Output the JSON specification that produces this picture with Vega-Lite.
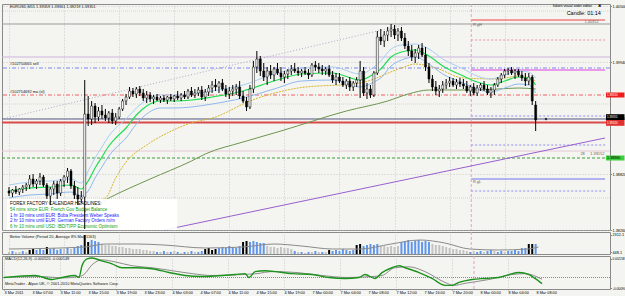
{
"$schema":"https://vega.github.io/schema/vega-lite/v6.json",
"background":"#f4f5f0",
"padding":{"left":0,"top":3,"right":0,"bottom":0},
"spacing":2,
"bounds":"flush",
"config":{"view":{"stroke":"#8a8a8a","strokeWidth":1,"fill":"#f4f5f0"},"axis":{"labelFont":"Liberation Sans","labelFontSize":3.8,"labelColor":"#000000","gridColor":"#bdbdbd","gridDash":[1,2],"gridWidth":0.8,"tickColor":"#888888","tickSize":1.5,"domain":false,"labelFlush":false,"labelOverlap":false,"labelPadding":0.5},"text":{"font":"Liberation Sans"}},
"datasets":{
"bars":[
{"t":0,"o":1.3865,"h":1.3869,"l":1.3860,"c":1.3863},{"t":0.5,"o":1.3863,"h":1.3867,"l":1.3859,"c":1.3866},{"t":1,"o":1.3866,"h":1.3870,"l":1.3862,"c":1.3864},{"t":1.5,"o":1.3864,"h":1.3868,"l":1.3861,"c":1.3867},{"t":2,"o":1.3867,"h":1.3871,"l":1.3863,"c":1.3869},{"t":2.5,"o":1.3869,"h":1.3873,"l":1.3865,"c":1.3871},{"t":3,"o":1.3871,"h":1.3881,"l":1.3867,"c":1.3877},{"t":3.5,"o":1.3877,"h":1.3882,"l":1.3869,"c":1.3872},{"t":4,"o":1.3872,"h":1.3877,"l":1.3867,"c":1.3875},{"t":4.5,"o":1.3875,"h":1.3883,"l":1.3871,"c":1.3879},
{"t":5,"o":1.3879,"h":1.3881,"l":1.3869,"c":1.3871},{"t":5.5,"o":1.3871,"h":1.3873,"l":1.3857,"c":1.3860},{"t":6,"o":1.3860,"h":1.3869,"l":1.3851,"c":1.3867},{"t":6.5,"o":1.3867,"h":1.3875,"l":1.3861,"c":1.3872},{"t":7,"o":1.3872,"h":1.3875,"l":1.3857,"c":1.3863},{"t":7.5,"o":1.3863,"h":1.3877,"l":1.3860,"c":1.3875},{"t":8,"o":1.3875,"h":1.3881,"l":1.3869,"c":1.3879},{"t":8.5,"o":1.3879,"h":1.3888,"l":1.3873,"c":1.3885},{"t":9,"o":1.3885,"h":1.3887,"l":1.3867,"c":1.3870},{"t":9.5,"o":1.3870,"h":1.3875,"l":1.3857,"c":1.3861},
{"t":10,"o":1.3861,"h":1.3869,"l":1.3851,"c":1.3857},{"t":10.5,"o":1.3857,"h":1.3865,"l":1.3853,"c":1.3859},{"t":11,"o":1.3859,"h":1.3976,"l":1.3827,"c":1.3942},{"t":11.5,"o":1.3942,"h":1.3960,"l":1.3930,"c":1.3937},{"t":12,"o":1.3937,"h":1.3955,"l":1.3931,"c":1.3950},{"t":12.5,"o":1.3950,"h":1.3953,"l":1.3933,"c":1.3939},{"t":13,"o":1.3939,"h":1.3949,"l":1.3935,"c":1.3945},{"t":13.5,"o":1.3945,"h":1.3951,"l":1.3937,"c":1.3941},{"t":14,"o":1.3941,"h":1.3947,"l":1.3935,"c":1.3938},{"t":14.5,"o":1.3938,"h":1.3945,"l":1.3933,"c":1.3943},
{"t":15,"o":1.3943,"h":1.3947,"l":1.3932,"c":1.3935},{"t":15.5,"o":1.3935,"h":1.3943,"l":1.3931,"c":1.3939},{"t":16,"o":1.3939,"h":1.3949,"l":1.3937,"c":1.3947},{"t":16.5,"o":1.3947,"h":1.3957,"l":1.3945,"c":1.3955},{"t":17,"o":1.3955,"h":1.3962,"l":1.3951,"c":1.3959},{"t":17.5,"o":1.3959,"h":1.3969,"l":1.3957,"c":1.3965},{"t":18,"o":1.3965,"h":1.3968,"l":1.3959,"c":1.3962},{"t":18.5,"o":1.3962,"h":1.3969,"l":1.3958,"c":1.3967},{"t":19,"o":1.3967,"h":1.3970,"l":1.3960,"c":1.3963},{"t":19.5,"o":1.3963,"h":1.3967,"l":1.3955,"c":1.3958},
{"t":20,"o":1.3958,"h":1.3965,"l":1.3953,"c":1.3961},{"t":20.5,"o":1.3961,"h":1.3964,"l":1.3954,"c":1.3957},{"t":21,"o":1.3957,"h":1.3961,"l":1.3952,"c":1.3959},{"t":21.5,"o":1.3959,"h":1.3962,"l":1.3955,"c":1.3956},{"t":22,"o":1.3956,"h":1.3960,"l":1.3953,"c":1.3958},{"t":22.5,"o":1.3958,"h":1.3961,"l":1.3954,"c":1.3956},{"t":23,"o":1.3956,"h":1.3960,"l":1.3952,"c":1.3959},{"t":23.5,"o":1.3959,"h":1.3962,"l":1.3955,"c":1.3957},{"t":24,"o":1.3957,"h":1.3961,"l":1.3954,"c":1.3960},{"t":24.5,"o":1.3960,"h":1.3965,"l":1.3956,"c":1.3958},
{"t":25,"o":1.3958,"h":1.3963,"l":1.3955,"c":1.3961},{"t":25.5,"o":1.3961,"h":1.3965,"l":1.3957,"c":1.3959},{"t":26,"o":1.3959,"h":1.3967,"l":1.3957,"c":1.3965},{"t":26.5,"o":1.3965,"h":1.3969,"l":1.3959,"c":1.3961},{"t":27,"o":1.3961,"h":1.3967,"l":1.3958,"c":1.3963},{"t":27.5,"o":1.3963,"h":1.3969,"l":1.3960,"c":1.3966},{"t":28,"o":1.3966,"h":1.3970,"l":1.3956,"c":1.3959},{"t":28.5,"o":1.3959,"h":1.3967,"l":1.3955,"c":1.3964},{"t":29,"o":1.3964,"h":1.3971,"l":1.3960,"c":1.3968},{"t":29.5,"o":1.3968,"h":1.3975,"l":1.3963,"c":1.3971},
{"t":30,"o":1.3971,"h":1.3977,"l":1.3965,"c":1.3969},{"t":30.5,"o":1.3969,"h":1.3975,"l":1.3963,"c":1.3973},{"t":31,"o":1.3973,"h":1.3977,"l":1.3965,"c":1.3967},{"t":31.5,"o":1.3967,"h":1.3971,"l":1.3959,"c":1.3962},{"t":32,"o":1.3962,"h":1.3969,"l":1.3957,"c":1.3965},{"t":32.5,"o":1.3965,"h":1.3971,"l":1.3960,"c":1.3967},{"t":33,"o":1.3967,"h":1.3972,"l":1.3961,"c":1.3969},{"t":33.5,"o":1.3969,"h":1.3975,"l":1.3957,"c":1.3960},{"t":34,"o":1.3960,"h":1.3965,"l":1.3953,"c":1.3955},{"t":34.5,"o":1.3955,"h":1.3959,"l":1.3945,"c":1.3949},
{"t":35,"o":1.3949,"h":1.3971,"l":1.3947,"c":1.3967},{"t":35.5,"o":1.3967,"h":1.3995,"l":1.3963,"c":1.3989},{"t":36,"o":1.3989,"h":1.4005,"l":1.3983,"c":1.3997},{"t":36.5,"o":1.3997,"h":1.4000,"l":1.3980,"c":1.3985},{"t":37,"o":1.3985,"h":1.3993,"l":1.3975,"c":1.3979},{"t":37.5,"o":1.3979,"h":1.3989,"l":1.3971,"c":1.3985},{"t":38,"o":1.3985,"h":1.3991,"l":1.3977,"c":1.3981},{"t":38.5,"o":1.3981,"h":1.3989,"l":1.3975,"c":1.3987},{"t":39,"o":1.3987,"h":1.3993,"l":1.3981,"c":1.3983},{"t":39.5,"o":1.3983,"h":1.3989,"l":1.3975,"c":1.3979},
{"t":40,"o":1.3979,"h":1.3985,"l":1.3973,"c":1.3982},{"t":40.5,"o":1.3982,"h":1.3987,"l":1.3977,"c":1.3985},{"t":41,"o":1.3985,"h":1.3991,"l":1.3981,"c":1.3987},{"t":41.5,"o":1.3987,"h":1.3993,"l":1.3983,"c":1.3985},{"t":42,"o":1.3985,"h":1.3989,"l":1.3980,"c":1.3983},{"t":42.5,"o":1.3983,"h":1.3987,"l":1.3979,"c":1.3985},{"t":43,"o":1.3985,"h":1.3989,"l":1.3981,"c":1.3983},{"t":43.5,"o":1.3983,"h":1.3987,"l":1.3977,"c":1.3981},{"t":44,"o":1.3981,"h":1.3993,"l":1.3979,"c":1.3991},{"t":44.5,"o":1.3991,"h":1.3995,"l":1.3985,"c":1.3989},
{"t":45,"o":1.3989,"h":1.3993,"l":1.3983,"c":1.3987},{"t":45.5,"o":1.3987,"h":1.3991,"l":1.3981,"c":1.3985},{"t":46,"o":1.3985,"h":1.3989,"l":1.3981,"c":1.3987},{"t":46.5,"o":1.3987,"h":1.3991,"l":1.3979,"c":1.3981},{"t":47,"o":1.3981,"h":1.3985,"l":1.3973,"c":1.3976},{"t":47.5,"o":1.3976,"h":1.3983,"l":1.3971,"c":1.3979},{"t":48,"o":1.3979,"h":1.3983,"l":1.3973,"c":1.3975},{"t":48.5,"o":1.3975,"h":1.3979,"l":1.3969,"c":1.3971},{"t":49,"o":1.3971,"h":1.3977,"l":1.3967,"c":1.3975},{"t":49.5,"o":1.3975,"h":1.3979,"l":1.3965,"c":1.3969},
{"t":50,"o":1.3969,"h":1.3975,"l":1.3965,"c":1.3973},{"t":50.5,"o":1.3973,"h":1.3979,"l":1.3969,"c":1.3976},{"t":51,"o":1.3976,"h":1.3995,"l":1.3958,"c":1.3985},{"t":51.5,"o":1.3985,"h":1.3989,"l":1.3960,"c":1.3963},{"t":52,"o":1.3963,"h":1.3973,"l":1.3957,"c":1.3967},{"t":52.5,"o":1.3967,"h":1.3971,"l":1.3958,"c":1.3961},{"t":53,"o":1.3961,"h":1.3985,"l":1.3959,"c":1.3983},{"t":53.5,"o":1.3983,"h":1.4025,"l":1.3981,"c":1.4019},{"t":54,"o":1.4019,"h":1.4027,"l":1.4011,"c":1.4015},{"t":54.5,"o":1.4015,"h":1.4025,"l":1.4009,"c":1.4021},
{"t":55,"o":1.4021,"h":1.4029,"l":1.4015,"c":1.4025},{"t":55.5,"o":1.4025,"h":1.4032,"l":1.4019,"c":1.4027},{"t":56,"o":1.4027,"h":1.4031,"l":1.4017,"c":1.4021},{"t":56.5,"o":1.4021,"h":1.4028,"l":1.4015,"c":1.4025},{"t":57,"o":1.4025,"h":1.4029,"l":1.4015,"c":1.4018},{"t":57.5,"o":1.4018,"h":1.4023,"l":1.4007,"c":1.4010},{"t":58,"o":1.4010,"h":1.4015,"l":1.4000,"c":1.4005},{"t":58.5,"o":1.4005,"h":1.4011,"l":1.3995,"c":1.3999},{"t":59,"o":1.3999,"h":1.4007,"l":1.3993,"c":1.4003},{"t":59.5,"o":1.4003,"h":1.4011,"l":1.3997,"c":1.4008},
{"t":60,"o":1.4008,"h":1.4013,"l":1.3999,"c":1.4001},{"t":60.5,"o":1.4001,"h":1.4009,"l":1.3985,"c":1.3989},{"t":61,"o":1.3989,"h":1.3993,"l":1.3973,"c":1.3977},{"t":61.5,"o":1.3977,"h":1.3981,"l":1.3965,"c":1.3969},{"t":62,"o":1.3969,"h":1.3975,"l":1.3961,"c":1.3965},{"t":62.5,"o":1.3965,"h":1.3971,"l":1.3959,"c":1.3967},{"t":63,"o":1.3967,"h":1.3975,"l":1.3963,"c":1.3971},{"t":63.5,"o":1.3971,"h":1.3977,"l":1.3967,"c":1.3973},{"t":64,"o":1.3973,"h":1.3979,"l":1.3969,"c":1.3975},{"t":64.5,"o":1.3975,"h":1.3978,"l":1.3969,"c":1.3971},
{"t":65,"o":1.3971,"h":1.3977,"l":1.3967,"c":1.3974},{"t":65.5,"o":1.3974,"h":1.3978,"l":1.3969,"c":1.3972},{"t":66,"o":1.3972,"h":1.3977,"l":1.3967,"c":1.3970},{"t":66.5,"o":1.3970,"h":1.3975,"l":1.3963,"c":1.3965},{"t":67,"o":1.3965,"h":1.3971,"l":1.3960,"c":1.3969},{"t":67.5,"o":1.3969,"h":1.3973,"l":1.3961,"c":1.3963},{"t":68,"o":1.3963,"h":1.3971,"l":1.3960,"c":1.3968},{"t":68.5,"o":1.3968,"h":1.3973,"l":1.3965,"c":1.3971},{"t":69,"o":1.3971,"h":1.3975,"l":1.3965,"c":1.3967},{"t":69.5,"o":1.3967,"h":1.3971,"l":1.3961,"c":1.3963},
{"t":70,"o":1.3963,"h":1.3969,"l":1.3958,"c":1.3966},{"t":70.5,"o":1.3966,"h":1.3973,"l":1.3961,"c":1.3971},{"t":71,"o":1.3971,"h":1.3979,"l":1.3969,"c":1.3977},{"t":71.5,"o":1.3977,"h":1.3983,"l":1.3973,"c":1.3981},{"t":72,"o":1.3981,"h":1.3987,"l":1.3978,"c":1.3985},{"t":72.5,"o":1.3985,"h":1.3988,"l":1.3981,"c":1.3986},{"t":73,"o":1.3986,"h":1.3989,"l":1.3981,"c":1.3983},{"t":73.5,"o":1.3983,"h":1.3987,"l":1.3977,"c":1.3985},{"t":74,"o":1.3985,"h":1.3987,"l":1.3979,"c":1.3981},{"t":74.5,"o":1.3981,"h":1.3985,"l":1.3975,"c":1.3978},
{"t":75,"o":1.3978,"h":1.3983,"l":1.3970,"c":1.3975},{"t":75.5,"o":1.3975,"h":1.3983,"l":1.3971,"c":1.3979},{"t":76,"o":1.3979,"h":1.3981,"l":1.3951,"c":1.3955},{"t":76.5,"o":1.3951,"h":1.3955,"l":1.3925,"c":1.3936}
],
"ema":[
{"t":0,"g":1.3865,"u":1.3871,"d":1.3858},{"t":3,"g":1.3868,"u":1.3874,"d":1.3861},{"t":6,"g":1.3869,"u":1.3875,"d":1.3862},{"t":9,"g":1.3871,"u":1.3877,"d":1.3864},{"t":10.5,"g":1.3867,"u":1.3873,"d":1.3860},{"t":11.5,"g":1.3875,"u":1.3885,"d":1.3865},{"t":12.5,"g":1.3888,"u":1.3898,"d":1.3878},{"t":13.5,"g":1.3899,"u":1.3909,"d":1.3889},{"t":14.5,"g":1.3910,"u":1.3920,"d":1.3900},{"t":15.5,"g":1.3918,"u":1.3928,"d":1.3908},{"t":17,"g":1.3928,"u":1.3937,"d":1.3918},{"t":18.5,"g":1.3941,"u":1.3948,"d":1.3932},{"t":20,"g":1.3950,"u":1.3956,"d":1.3942},{"t":22,"g":1.3955,"u":1.3961,"d":1.3948},{"t":24,"g":1.3955,"u":1.3961,"d":1.3948},{"t":26.5,"g":1.3956,"u":1.3962,"d":1.3949},{"t":29.5,"g":1.3959,"u":1.3965,"d":1.3952},{"t":34,"g":1.3965,"u":1.3971,"d":1.3958},{"t":38.5,"g":1.3975,"u":1.3982,"d":1.3967},{"t":42.5,"g":1.3982,"u":1.3988,"d":1.3975},{"t":47,"g":1.3983,"u":1.3989,"d":1.3976},{"t":51,"g":1.3976,"u":1.3982,"d":1.3969},{"t":53,"g":1.3982,"u":1.3989,"d":1.3974},{"t":54,"g":1.3987,"u":1.3995,"d":1.3978},{"t":55.5,"g":1.3999,"u":1.4007,"d":1.3990},{"t":57,"g":1.4004,"u":1.4011,"d":1.3996},{"t":59,"g":1.4006,"u":1.4012,"d":1.3999},{"t":61,"g":1.4000,"u":1.4007,"d":1.3992},{"t":63,"g":1.3990,"u":1.3997,"d":1.3982},{"t":66,"g":1.3980,"u":1.3987,"d":1.3973},{"t":68,"g":1.3974,"u":1.3980,"d":1.3967},{"t":70,"g":1.3971,"u":1.3977,"d":1.3964},{"t":72,"g":1.3975,"u":1.3981,"d":1.3968},{"t":74,"g":1.3979,"u":1.3985,"d":1.3972},{"t":75.5,"g":1.3978,"u":1.3984,"d":1.3971},{"t":76.5,"g":1.3971,"u":1.3978,"d":1.3963}
],
"ema50":[{"t":0,"p":1.3854},{"t":6,"p":1.3853},{"t":11,"p":1.3853},{"t":14,"p":1.3858},{"t":15.5,"p":1.3878},{"t":17,"p":1.3894},{"t":20,"p":1.3911},{"t":23,"p":1.3923},{"t":26,"p":1.3932},{"t":30,"p":1.3939},{"t":35,"p":1.3955},{"t":42,"p":1.3968},{"t":51,"p":1.3973},{"t":57,"p":1.3988},{"t":59,"p":1.3992},{"t":62,"p":1.3988},{"t":66,"p":1.3978},{"t":71,"p":1.3977},{"t":74,"p":1.3980},{"t":76.5,"p":1.3975}],
"sma200":[{"t":0,"p":1.3840},{"t":11,"p":1.3845},{"t":14.5,"p":1.3858},{"t":20.5,"p":1.3877},{"t":26.5,"p":1.3895},{"t":28.5,"p":1.3902},{"t":34,"p":1.3914},{"t":39.5,"p":1.3925},{"t":49,"p":1.3945},{"t":55,"p":1.3955},{"t":58,"p":1.3962},{"t":61,"p":1.3966},{"t":66,"p":1.3966},{"t":71,"p":1.3967},{"t":74,"p":1.3968},{"t":76.5,"p":1.3967}],
"vol":[
{"t":0,"v":448,"k":"low"},{"t":0.5,"v":558,"k":"normal"},{"t":1,"v":448,"k":"low"},{"t":1.5,"v":448,"k":"low"},{"t":2,"v":558,"k":"normal"},{"t":2.5,"v":448,"k":"low"},{"t":3,"v":667,"k":"climax"},{"t":3.5,"v":777,"k":"climax"},{"t":4,"v":667,"k":"normal"},{"t":4.5,"v":777,"k":"normal"},
{"t":5,"v":667,"k":"normal"},{"t":5.5,"v":996,"k":"climax"},{"t":6,"v":777,"k":"normal"},{"t":6.5,"v":887,"k":"normal"},{"t":7,"v":667,"k":"normal"},{"t":7.5,"v":777,"k":"normal"},{"t":8,"v":777,"k":"low"},{"t":8.5,"v":887,"k":"normal"},{"t":9,"v":777,"k":"low"},{"t":9.5,"v":887,"k":"normal"},
{"t":10,"v":1106,"k":"normal"},{"t":10.5,"v":1215,"k":"normal"},{"t":11,"v":2312,"k":"climax"},{"t":11.5,"v":1544,"k":"climax"},{"t":12,"v":1763,"k":"normal"},{"t":12.5,"v":1654,"k":"normal"},{"t":13,"v":1544,"k":"normal"},{"t":13.5,"v":1325,"k":"low"},{"t":14,"v":1215,"k":"low"},{"t":14.5,"v":1215,"k":"low"},
{"t":15,"v":1106,"k":"low"},{"t":15.5,"v":1106,"k":"low"},{"t":16,"v":996,"k":"low"},{"t":16.5,"v":996,"k":"low"},{"t":17,"v":887,"k":"low"},{"t":17.5,"v":887,"k":"low"},{"t":18,"v":777,"k":"low"},{"t":18.5,"v":777,"k":"low"},{"t":19,"v":777,"k":"low"},{"t":19.5,"v":667,"k":"low"},
{"t":20,"v":667,"k":"low"},{"t":20.5,"v":558,"k":"low"},{"t":21,"v":558,"k":"low"},{"t":21.5,"v":448,"k":"normal"},{"t":22,"v":448,"k":"low"},{"t":22.5,"v":558,"k":"normal"},{"t":23,"v":448,"k":"low"},{"t":23.5,"v":448,"k":"normal"},{"t":24,"v":558,"k":"low"},{"t":24.5,"v":448,"k":"normal"},
{"t":25,"v":339,"k":"low"},{"t":25.5,"v":448,"k":"normal"},{"t":26,"v":448,"k":"low"},{"t":26.5,"v":558,"k":"normal"},{"t":27,"v":448,"k":"low"},{"t":27.5,"v":448,"k":"normal"},{"t":28,"v":558,"k":"normal"},{"t":28.5,"v":777,"k":"climax"},{"t":29,"v":887,"k":"climax"},{"t":29.5,"v":667,"k":"climax"},
{"t":30,"v":777,"k":"climax"},{"t":30.5,"v":887,"k":"normal"},{"t":31,"v":996,"k":"normal"},{"t":31.5,"v":887,"k":"normal"},{"t":32,"v":1106,"k":"normal"},{"t":32.5,"v":996,"k":"normal"},{"t":33,"v":887,"k":"normal"},{"t":33.5,"v":1106,"k":"normal"},{"t":34,"v":1544,"k":"climax"},{"t":34.5,"v":1654,"k":"climax"},
{"t":35,"v":1544,"k":"normal"},{"t":35.5,"v":1654,"k":"normal"},{"t":36,"v":1544,"k":"normal"},{"t":36.5,"v":1435,"k":"normal"},{"t":37,"v":1435,"k":"normal"},{"t":37.5,"v":1106,"k":"low"},{"t":38,"v":996,"k":"low"},{"t":38.5,"v":996,"k":"low"},{"t":39,"v":887,"k":"low"},{"t":39.5,"v":996,"k":"low"},
{"t":40,"v":887,"k":"low"},{"t":40.5,"v":887,"k":"low"},{"t":41,"v":777,"k":"low"},{"t":41.5,"v":558,"k":"normal"},{"t":42,"v":448,"k":"low"},{"t":42.5,"v":448,"k":"normal"},{"t":43,"v":339,"k":"low"},{"t":43.5,"v":448,"k":"normal"},{"t":44,"v":448,"k":"low"},{"t":44.5,"v":558,"k":"normal"},
{"t":45,"v":448,"k":"low"},{"t":45.5,"v":448,"k":"normal"},{"t":46,"v":448,"k":"low"},{"t":46.5,"v":667,"k":"climax"},{"t":47,"v":558,"k":"normal"},{"t":47.5,"v":667,"k":"normal"},{"t":48,"v":558,"k":"normal"},{"t":48.5,"v":777,"k":"normal"},{"t":49,"v":667,"k":"normal"},{"t":49.5,"v":558,"k":"normal"},
{"t":50,"v":667,"k":"normal"},{"t":50.5,"v":1215,"k":"climax"},{"t":51,"v":1325,"k":"climax"},{"t":51.5,"v":1106,"k":"normal"},{"t":52,"v":1215,"k":"normal"},{"t":52.5,"v":1325,"k":"normal"},{"t":53,"v":1215,"k":"normal"},{"t":53.5,"v":1325,"k":"normal"},{"t":54,"v":1106,"k":"low"},{"t":54.5,"v":1106,"k":"low"},
{"t":55,"v":996,"k":"low"},{"t":55.5,"v":1106,"k":"low"},{"t":56,"v":996,"k":"low"},{"t":56.5,"v":1106,"k":"low"},{"t":57,"v":1544,"k":"normal"},{"t":57.5,"v":1654,"k":"normal"},{"t":58,"v":1763,"k":"normal"},{"t":58.5,"v":1544,"k":"normal"},{"t":59,"v":1654,"k":"normal"},{"t":59.5,"v":1763,"k":"normal"},
{"t":60,"v":1544,"k":"normal"},{"t":60.5,"v":1654,"k":"normal"},{"t":61,"v":1544,"k":"normal"},{"t":61.5,"v":1325,"k":"low"},{"t":62,"v":1215,"k":"low"},{"t":62.5,"v":1215,"k":"low"},{"t":63,"v":1106,"k":"low"},{"t":63.5,"v":996,"k":"low"},{"t":64,"v":887,"k":"low"},{"t":64.5,"v":777,"k":"low"},
{"t":65,"v":777,"k":"low"},{"t":65.5,"v":667,"k":"low"},{"t":66,"v":667,"k":"low"},{"t":66.5,"v":558,"k":"low"},{"t":67,"v":448,"k":"normal"},{"t":67.5,"v":558,"k":"low"},{"t":68,"v":448,"k":"normal"},{"t":68.5,"v":558,"k":"normal"},{"t":69,"v":448,"k":"low"},{"t":69.5,"v":558,"k":"normal"},
{"t":70,"v":667,"k":"normal"},{"t":70.5,"v":558,"k":"low"},{"t":71,"v":448,"k":"normal"},{"t":71.5,"v":558,"k":"normal"},{"t":72,"v":448,"k":"low"},{"t":72.5,"v":558,"k":"normal"},{"t":73,"v":558,"k":"normal"},{"t":73.5,"v":667,"k":"normal"},{"t":74,"v":558,"k":"normal"},{"t":74.5,"v":887,"k":"normal"},
{"t":75,"v":887,"k":"normal"},{"t":75.5,"v":1325,"k":"climax"},{"t":76,"v":1325,"k":"climax"},{"t":76.5,"v":1325,"k":"normal"}
],
"vma":[{"t":0,"v":777},{"t":11,"v":996},{"t":14,"v":1325},{"t":18.5,"v":1325},{"t":22.5,"v":1215},{"t":28.5,"v":887},{"t":34,"v":996},{"t":38.5,"v":1325},{"t":42.5,"v":1106},{"t":47,"v":777},{"t":51,"v":777},{"t":55.5,"v":1325},{"t":59.7,"v":1763},{"t":63.3,"v":1435},{"t":66.9,"v":777},{"t":71.1,"v":667},{"t":75.4,"v":777},{"t":76.9,"v":996}],
"macd":[{"t":0,"m":0},{"t":4.43,"m":0.00017},{"t":6.86,"m":-0.00017},{"t":8.29,"m":0},{"t":10.14,"m":0.00017},{"t":10.71,"m":0},{"t":11.14,"m":0.001},{"t":11.86,"m":0.00158},{"t":12.57,"m":0.00166},{"t":14,"m":0.00141},{"t":15.43,"m":0.00116},{"t":16.86,"m":0.00083},{"t":18.71,"m":0.00083},{"t":21.14,"m":0.00075},{"t":23.57,"m":0.00042},{"t":25.86,"m":0.00017},{"t":28.29,"m":0.00008},{"t":33,"m":0.00025},{"t":34.43,"m":0.00033},{"t":35,"m":0},{"t":35.86,"m":0.0005},{"t":37.29,"m":0.00058},{"t":41.14,"m":0.00033},{"t":44,"m":0.00025},{"t":46.43,"m":0},{"t":48.71,"m":-0.00008},{"t":50.71,"m":0},{"t":51.57,"m":0.00025},{"t":53,"m":-0.00008},{"t":54,"m":0.00042},{"t":55.43,"m":0.00083},{"t":56.43,"m":0.001},{"t":57.29,"m":0.00083},{"t":59.29,"m":0.00042},{"t":61.14,"m":-0.00008},{"t":63,"m":-0.00067},{"t":64,"m":-0.00067},{"t":65,"m":-0.00042},{"t":66.86,"m":-0.00017},{"t":68.71,"m":-0.00008},{"t":70.71,"m":0},{"t":72.14,"m":0.00025},{"t":73.57,"m":0.00042},{"t":75,"m":0.00025},{"t":75.86,"m":-0.00008},{"t":76.86,"m":-0.00052}],
"sig":[{"t":0,"s":0},{"t":5.43,"s":0.00008},{"t":8.29,"s":-0.00004},{"t":10.71,"s":0.00008},{"t":11.43,"s":0.00025},{"t":12.57,"s":0.00108},{"t":14,"s":0.0015},{"t":15.86,"s":0.00133},{"t":18.29,"s":0.001},{"t":21.14,"s":0.00083},{"t":24,"s":0.00058},{"t":26.86,"s":0.00033},{"t":29.71,"s":0.00017},{"t":34,"s":0.00025},{"t":36.14,"s":0.00033},{"t":38.29,"s":0.0005},{"t":41.86,"s":0.00042},{"t":45.43,"s":0.00017},{"t":49,"s":0},{"t":52.57,"s":0.00008},{"t":54,"s":0.00017},{"t":55.86,"s":0.00083},{"t":57.86,"s":0.00091},{"t":60.14,"s":0.0005},{"t":63,"s":-0.00042},{"t":64.29,"s":-0.00067},{"t":65.86,"s":-0.0005},{"t":69.29,"s":-0.00017},{"t":72.57,"s":0.00025},{"t":74.43,"s":0.00033},{"t":76.86,"s":-0.00015}],
"times":[{"t":0,"s":"3 Mar 2011"},{"t":4,"s":"3 Mar 07:00"},{"t":8,"s":"3 Mar 11:00"},{"t":12,"s":"3 Mar 15:00"},{"t":16,"s":"3 Mar 19:00"},{"t":20,"s":"3 Mar 23:00"},{"t":24,"s":"4 Mar 03:00"},{"t":28,"s":"4 Mar 07:00"},{"t":32,"s":"4 Mar 11:00"},{"t":36,"s":"4 Mar 15:00"},{"t":40,"s":"4 Mar 19:00"},{"t":44,"s":"7 Mar 00:00"},{"t":48,"s":"7 Mar 04:00"},{"t":52,"s":"7 Mar 08:00"},{"t":56,"s":"7 Mar 12:00"},{"t":60,"s":"7 Mar 16:00"},{"t":64,"s":"7 Mar 20:00"},{"t":68,"s":"8 Mar 00:00"},{"t":72,"s":"8 Mar 04:00"},{"t":76,"s":"8 Mar 08:00"}]
},
"vconcat":[
{"width":608,"height":226,
"layer":[
{"data":{"values":[{"p":1.4045},{"p":1.3952},{"p":1.3858}]},"mark":{"type":"rule","color":"#c6e2bc","strokeDash":[1,1]},"encoding":{"y":{"field":"p","type":"quantitative","scale":{"domain":[1.3826,1.4052],"nice":false,"zero":false},"axis":{"orient":"right","values":[1.405,1.4036,1.4022,1.4008,1.3994,1.398,1.3966,1.3952,1.3938,1.3924,1.391,1.3896,1.3882,1.3868,1.3854,1.384,1.3826],"format":".5f","grid":true,"labelOverlap":false,"title":null}}}},
{"data":{"values":[{"t":0}]},"mark":{"type":"rule","opacity":0},"encoding":{"x":{"field":"t","type":"quantitative","scale":{"domain":[-0.29,86.57],"nice":false,"zero":false},"axis":{"values":[0,4,8,12,16,20,24,28,32,36,40,44,48,52,56,60,64,68,72,76],"labels":false,"ticks":false,"grid":true,"title":null}}}},
{"data":{"values":[{"p":1.4032}]},"mark":{"type":"rule","color":"#9a9a9a"},"encoding":{"y":{"field":"p","type":"quantitative"}}},
{"data":{"values":[{"p":1.3999}]},"mark":{"type":"rule","color":"#cdb3dc"},"encoding":{"y":{"field":"p","type":"quantitative"}}},
{"data":{"values":[{"p":1.3988}]},"mark":{"type":"rule","color":"#7b86f2","strokeDash":[4,2,1,2]},"encoding":{"y":{"field":"p","type":"quantitative"}}},
{"data":{"values":[{"p":1.3961}]},"mark":{"type":"rule","color":"#f06060","strokeDash":[4,2,1,2]},"encoding":{"y":{"field":"p","type":"quantitative"}}},
{"data":{"values":[{"p":1.3937}]},"mark":{"type":"rule","color":"#5c5c8a"},"encoding":{"y":{"field":"p","type":"quantitative"}}},
{"data":{"values":[{"p":1.39335}]},"mark":{"type":"rule","color":"#d94a4a","strokeWidth":2},"encoding":{"y":{"field":"p","type":"quantitative"}}},
{"data":{"values":[{"p":1.3905}]},"mark":{"type":"rule","color":"#e6c8d8"},"encoding":{"y":{"field":"p","type":"quantitative"}}},
{"data":{"values":[{"p":1.3898}]},"mark":{"type":"rule","color":"#3c9c3c","strokeDash":[3,2]},"encoding":{"y":{"field":"p","type":"quantitative"}}},
{"data":{"values":[{"t":67.14,"t2":86.57,"p":1.4036}]},"mark":{"type":"rule","color":"#f04040"},"encoding":{"x":{"field":"t","type":"quantitative"},"x2":{"field":"t2"},"y":{"field":"p","type":"quantitative"}}},
{"data":{"values":[{"t":67.14,"t2":86.57,"p":1.4016}]},"mark":{"type":"rule","color":"#e58fa0","strokeDash":[2,2]},"encoding":{"x":{"field":"t","type":"quantitative"},"x2":{"field":"t2"},"y":{"field":"p","type":"quantitative"}}},
{"data":{"values":[{"t":67.14,"t2":86.57,"p":1.3986}]},"mark":{"type":"rule","color":"#e040e0"},"encoding":{"x":{"field":"t","type":"quantitative"},"x2":{"field":"t2"},"y":{"field":"p","type":"quantitative"}}},
{"data":{"values":[{"t":67.14,"t2":86.57,"p":1.394},{"t":67.14,"t2":86.57,"p":1.3911},{"t":67.14,"t2":86.57,"p":1.3865}]},"mark":{"type":"rule","color":"#8c8cf0","strokeDash":[2,2]},"encoding":{"x":{"field":"t","type":"quantitative"},"x2":{"field":"t2"},"y":{"field":"p","type":"quantitative"}}},
{"data":{"values":[{"t":67.14,"t2":86.57,"p":1.3877}]},"mark":{"type":"rule","color":"#7070f0"},"encoding":{"x":{"field":"t","type":"quantitative"},"x2":{"field":"t2"},"y":{"field":"p","type":"quantitative"}}},
{"data":{"values":[{"t":67.14}]},"mark":{"type":"rule","color":"#e0a0c8","strokeDash":[3,2]},"encoding":{"x":{"field":"t","type":"quantitative"}}},
{"data":{"values":[{"t":-0.29,"p":1.3938},{"t":57.86,"p":1.4032}]},"mark":{"type":"line","color":"#b4a6c6","strokeDash":[1,2],"strokeWidth":1},"encoding":{"x":{"field":"t","type":"quantitative"},"y":{"field":"p","type":"quantitative"}}},
{"data":{"values":[{"t":22.57,"p":1.3826},{"t":86.57,"p":1.3918}]},"mark":{"type":"line","color":"#9a5fcf","strokeWidth":1},"encoding":{"x":{"field":"t","type":"quantitative"},"y":{"field":"p","type":"quantitative"}}},
{"data":{"name":"sma200"},"mark":{"type":"line","color":"#6e9550","strokeWidth":1,"interpolate":"monotone"},"encoding":{"x":{"field":"t","type":"quantitative"},"y":{"field":"p","type":"quantitative"}}},
{"data":{"name":"ema50"},"mark":{"type":"line","color":"#d8b430","strokeWidth":1,"strokeDash":[2,1],"interpolate":"monotone"},"encoding":{"x":{"field":"t","type":"quantitative"},"y":{"field":"p","type":"quantitative"}}},
{"data":{"name":"ema"},"mark":{"type":"line","color":"#a9cdf5","strokeWidth":1,"interpolate":"monotone"},"encoding":{"x":{"field":"t","type":"quantitative"},"y":{"field":"u","type":"quantitative"}}},
{"data":{"name":"ema"},"mark":{"type":"line","color":"#8fb8f0","strokeWidth":1,"interpolate":"monotone"},"encoding":{"x":{"field":"t","type":"quantitative"},"y":{"field":"d","type":"quantitative"}}},
{"data":{"name":"ema"},"mark":{"type":"line","color":"#22dd55","strokeWidth":1.2,"interpolate":"monotone"},"encoding":{"x":{"field":"t","type":"quantitative"},"y":{"field":"g","type":"quantitative"}}},
{"data":{"values":[{"t":-0.29,"t2":24.43,"p":1.3826,"p2":1.3857}]},"mark":{"type":"rect","fill":"#ffffff","opacity":0.92},"encoding":{"x":{"field":"t","type":"quantitative"},"x2":{"field":"t2"},"y":{"field":"p","type":"quantitative"},"y2":{"field":"p2"}}},
{"data":{"values":[{"t":0.14,"p":1.3852,"s":"FOREX FACTORY CALENDAR HEADLINES:"}]},"mark":{"type":"text","align":"left","baseline":"middle","fontSize":4.5,"color":"#000000"},"encoding":{"x":{"field":"t","type":"quantitative"},"y":{"field":"p","type":"quantitative"},"text":{"field":"s"}}},
{"data":{"values":[{"t":0.14,"p":1.3846,"s":"54 mins since EUR: French Gov Budget Balance"},{"t":0.14,"p":1.3829,"s":"6 hr 10 mins until USD: IBD/TIPP Economic Optimism"}]},"mark":{"type":"text","align":"left","baseline":"middle","fontSize":4.5,"color":"#10a010"},"encoding":{"x":{"field":"t","type":"quantitative"},"y":{"field":"p","type":"quantitative"},"text":{"field":"s"}}},
{"data":{"values":[{"t":0.14,"p":1.38405,"s":"1 hr 10 mins until EUR: Buba President Weber Speaks"},{"t":0.14,"p":1.3835,"s":"2 hr 10 mins until EUR: German Factory Orders m/m"}]},"mark":{"type":"text","align":"left","baseline":"middle","fontSize":4.5,"color":"#1a1aff"},"encoding":{"x":{"field":"t","type":"quantitative"},"y":{"field":"p","type":"quantitative"},"text":{"field":"s"}}},
{"data":{"name":"bars"},"mark":{"type":"rule","color":"#000000","strokeWidth":1},"encoding":{"x":{"field":"t","type":"quantitative"},"y":{"field":"l","type":"quantitative"},"y2":{"field":"h"}}},
{"data":{"name":"bars"},"mark":{"type":"bar","width":2,"stroke":"#000000","strokeWidth":0.5},"encoding":{"x":{"field":"t","type":"quantitative"},"y":{"field":"o","type":"quantitative"},"y2":{"field":"c"},"fill":{"condition":{"test":"datum.c>datum.o","value":"#ffffff"},"value":"#000000"}}},
{"data":{"values":[{"t":78,"p":1.3937}]},"mark":{"type":"point","filled":true,"color":"#000000","size":6},"encoding":{"x":{"field":"t","type":"quantitative"},"y":{"field":"p","type":"quantitative"}}},
{"data":{"values":[{"t":0.14,"p":1.4049,"s":"EURUSD,M15  1.39359 1.39361 1.39219 1.39351"},{"t":0.14,"p":1.3992,"s":"#102750665 sell"},{"t":0.14,"p":1.3964,"s":"#102754692 ma (sl)"}]},"mark":{"type":"text","align":"left","baseline":"middle","fontSize":3.9,"color":"#111111"},"encoding":{"x":{"field":"t","type":"quantitative"},"y":{"field":"p","type":"quantitative"},"text":{"field":"s"}}},
{"data":{"values":[{"t":67.4,"p":1.4031,"s":"R.gH"},{"t":67.4,"p":1.3874,"s":"R.gL"},{"t":83.6,"p":1.4034,"s":"1.40352"},{"t":83.0,"p":1.3902,"s":"28"},{"t":84.43,"p":1.3902,"s":"1.39152"}]},"mark":{"type":"text","align":"left","baseline":"middle","fontSize":3.9,"color":"#666666"},"encoding":{"x":{"field":"t","type":"quantitative"},"y":{"field":"p","type":"quantitative"},"text":{"field":"s"}}},
{"data":{"values":[{"t":79.0,"p":1.4050,"s":"fukien visual order editor"},{"t":85.6,"p":1.4050,"s":"✖"}]},"mark":{"type":"text","align":"left","baseline":"middle","fontSize":3.6,"color":"#000000"},"encoding":{"x":{"field":"t","type":"quantitative"},"y":{"field":"p","type":"quantitative"},"text":{"field":"s"}}},
{"data":{"values":[{"t":81.0,"p":1.4043,"s":"Candle: 01:14"}]},"mark":{"type":"text","align":"left","baseline":"middle","fontSize":5.5,"color":"#000000"},"encoding":{"x":{"field":"t","type":"quantitative"},"y":{"field":"p","type":"quantitative"},"text":{"field":"s"}}},
{"data":{"values":[{"t":86.71,"t2":89.4,"p":1.39635,"p2":1.39585,"f":"sl"},{"t":86.71,"t2":89.4,"p":1.39418,"p2":1.3936,"f":"bid"},{"t":86.71,"t2":89.4,"p":1.3936,"p2":1.39302,"f":"alert"},{"t":86.71,"t2":89.4,"p":1.39005,"p2":1.38955,"f":"tp"}]},"mark":{"type":"rect"},"encoding":{"x":{"field":"t","type":"quantitative"},"x2":{"field":"t2"},"y":{"field":"p","type":"quantitative"},"y2":{"field":"p2"},"fill":{"field":"f","type":"nominal","scale":{"domain":["sl","bid","alert","tp"],"range":["#ee1c1c","#000000","#e03030","#3ccf3c"]},"legend":null}}},
{"data":{"values":[{"t":86.85,"p":1.3961,"s":"1.39610"},{"t":86.85,"p":1.39392,"s":"1.39351"},{"t":86.85,"p":1.39328,"s":"1.39320"}]},"mark":{"type":"text","align":"left","baseline":"middle","fontSize":3,"color":"#ffffff"},"encoding":{"x":{"field":"t","type":"quantitative"},"y":{"field":"p","type":"quantitative"},"text":{"field":"s"}}},
{"data":{"values":[{"t":86.85,"p":1.3898,"s":"1.38980"}]},"mark":{"type":"text","align":"left","baseline":"middle","fontSize":3.7,"color":"#000000"},"encoding":{"x":{"field":"t","type":"quantitative"},"y":{"field":"p","type":"quantitative"},"text":{"field":"s"}}}
]},
{"width":608,"height":22,
"layer":[
{"data":{"name":"vol"},"mark":{"type":"bar","width":2},"encoding":{"x":{"field":"t","type":"quantitative","scale":{"domain":[-0.29,86.57],"nice":false,"zero":false},"axis":{"values":[0,4,8,12,16,20,24,28,32,36,40,44,48,52,56,60,64,68,72,76],"labels":false,"ticks":false,"grid":true,"title":null}},"y":{"field":"v","type":"quantitative","scale":{"domain":[229,2641],"nice":false,"zero":false},"axis":{"orient":"right","values":[2312.1,448.1],"format":".1f","grid":false,"title":null}},"y2":{"datum":229},"color":{"field":"k","type":"nominal","scale":{"domain":["normal","low","climax"],"range":["#6196ee","#c3c3c3","#000000"]},"legend":null}}},
{"data":{"name":"vma"},"mark":{"type":"line","color":"#8a8a8a","strokeWidth":1,"interpolate":"monotone"},"encoding":{"x":{"field":"t","type":"quantitative"},"y":{"field":"v","type":"quantitative"}}},
{"data":{"values":[{"t":67.14}]},"mark":{"type":"rule","color":"#e0a0c8","strokeDash":[3,2]},"encoding":{"x":{"field":"t","type":"quantitative"}}},
{"data":{"values":[{"t":0.14,"v":2092,"s":"Better Volume (Period 20, Average 8% Max 1163)"}]},"mark":{"type":"text","align":"left","baseline":"middle","fontSize":3.9,"color":"#111111"},"encoding":{"x":{"field":"t","type":"quantitative"},"y":{"field":"v","type":"quantitative"},"text":{"field":"s"}}}
]},
{"width":608,"height":33,
"layer":[
{"data":{"values":[{"m":0}]},"mark":{"type":"rule","color":"#8a8a8a","strokeDash":[1,1]},"encoding":{"y":{"field":"m","type":"quantitative","scale":{"domain":[-0.00098,0.00183],"nice":false,"zero":false},"axis":{"orient":"right","values":[0.00158,0,-0.0009],"labelFontSize":3.4,"labelExpr":"datum.value==0 ? '0.00' : replace(format(datum.value,'.5f'),'−','-')","grid":false,"title":null}}}},
{"data":{"name":"sig"},"mark":{"type":"line","color":"#8c8c8c","strokeWidth":1,"interpolate":"monotone"},"encoding":{"x":{"field":"t","type":"quantitative","scale":{"domain":[-0.29,86.57],"nice":false,"zero":false},"axis":{"values":[0,4,8,12,16,20,24,28,32,36,40,44,48,52,56,60,64,68,72,76],"labels":false,"tickSize":1,"grid":true,"title":null}},"y":{"field":"s","type":"quantitative"}}},
{"data":{"name":"macd"},"mark":{"type":"line","color":"#1c931c","strokeWidth":1.4,"interpolate":"monotone"},"encoding":{"x":{"field":"t","type":"quantitative"},"y":{"field":"m","type":"quantitative"}}},
{"data":{"values":[{"t":67.14}]},"mark":{"type":"rule","color":"#e0a0c8","strokeDash":[3,2]},"encoding":{"x":{"field":"t","type":"quantitative"}}},
{"data":{"values":[{"t":0.14,"m":0.00158,"s":"MACD(12,26,9) -0.000520 -0.000149"},{"t":0.14,"m":-0.00058,"s":"MetaTrader - Alpari UK, © 2001-2010 MetaQuotes Software Corp."}]},"mark":{"type":"text","align":"left","baseline":"middle","fontSize":3.9,"color":"#111111"},"encoding":{"x":{"field":"t","type":"quantitative"},"y":{"field":"m","type":"quantitative"},"text":{"field":"s"}}},
{"data":{"name":"times"},"mark":{"type":"text","align":"left","baseline":"middle","fontSize":3.8,"color":"#000000","dx":0.5},"encoding":{"x":{"field":"t","type":"quantitative"},"y":{"datum":-0.00132},"text":{"field":"s"}}}
]}
]
}
